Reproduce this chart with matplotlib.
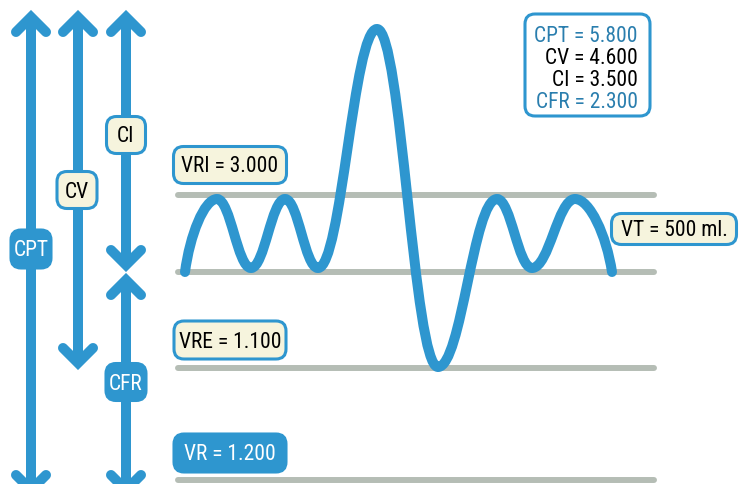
import matplotlib.pyplot as plt
from matplotlib.path import Path
from matplotlib.patches import PathPatch, FancyBboxPatch

# lung volumes shown in the chart (ml)
vol_names = ["CPT", "CV", "CI", "CFR"]
vol_values = ["5.800", "4.600", "3.500", "2.300"]
vri_value = "3.000"
vre_value = "1.100"
vr_value = "1.200"
vt_value = "500 ml."

# schematic levels of the diagram (y grows downward)
lvl_top = 17
lvl_vri = 195
lvl_crf = 272
lvl_vre = 368
lvl_floor = 480

# breathing trace: turning points
wave_x = [185, 217, 251, 285, 318, 377, 438, 497, 532, 575, 612]
wave_y = [272, 199, 268, 199, 268, 29, 367, 199, 268, 199, 272]

blue = "#2e96cf"
cream = "#f6f4dd"
grey = "#b5bdb5"
darkblue = "#2a7eae"

plt.rcParams["font.family"] = ["Roboto Condensed", "DejaVu Sans"]

fig = plt.figure(figsize=(7.43, 4.84), dpi=100)
ax = fig.add_axes([0, 0, 1, 1])
ax.set_xlim(0, 743)
ax.set_ylim(484, 0)
ax.axis("off")

# grey level lines
for lv in [lvl_vri, lvl_crf, lvl_vre, lvl_floor]:
    ax.plot([178, 654], [lv, lv], color=grey, lw=4.3, solid_capstyle="round", zorder=1)

# breathing trace as bezier segments between turning points
verts = [(wave_x[0], wave_y[0])]
codes = [Path.MOVETO]
k = 0.4
n = len(wave_x)
for i in range(n - 1):
    x0, y0 = wave_x[i], wave_y[i]
    x1, y1 = wave_x[i + 1], wave_y[i + 1]
    dx, dy = x1 - x0, y1 - y0
    if i == 0:
        c1 = (x0 + 0.15 * dx, y0 + 0.5 * dy)
    else:
        c1 = (x0 + k * dx, y0)
    if i == n - 2:
        c2 = (x1 - 0.15 * dx, y1 - 0.5 * dy)
    else:
        c2 = (x1 - k * dx, y1)
    verts += [c1, c2, (x1, y1)]
    codes += [Path.CURVE4] * 3
ax.add_patch(PathPatch(Path(verts, codes), fill=False, ec=blue, lw=7.2,
                       capstyle="round", joinstyle="round", zorder=2))


def arrow(x, top, bottom, head_top=True, head_bottom=True):
    ax.plot([x, x], [top + 4, bottom - 4], color=blue, lw=7.2, solid_capstyle="butt", zorder=2)
    if head_top:
        ax.plot([x - 15, x, x + 15], [top + 15, top, top + 15], color=blue, lw=7.2,
                solid_capstyle="round", solid_joinstyle="miter", zorder=2)
    if head_bottom:
        ax.plot([x - 15, x, x + 15], [bottom - 15, bottom, bottom - 15], color=blue, lw=7.2,
                solid_capstyle="round", solid_joinstyle="miter", zorder=2)


arrow(31, lvl_top, 490)
arrow(78, lvl_top, 363)
arrow(126, lvl_top, 265)
arrow(126, 280, 490)


def label(x, y, w, h, txt, filled=False, size=15.5):
    fc = blue if filled else cream
    tc = "white" if filled else "black"
    ax.add_patch(FancyBboxPatch((x - w / 2, y - h / 2), w, h,
                                boxstyle="round,pad=0,rounding_size=10",
                                fc=fc, ec=blue, lw=2.2, zorder=3))
    ax.text(x, y + 7.5, txt, ha="center", va="baseline", fontsize=size, color=tc, zorder=4)


label(31, 249, 40, 38, vol_names[0], filled=True)
label(77, 190, 40, 37, vol_names[1])
label(126, 135, 39, 37, vol_names[2])
label(126, 382, 40, 37, vol_names[3], filled=True)

label(230, 165, 113, 37, "VRI = " + vri_value)
label(230, 340, 112, 38, "VRE = " + vre_value)
label(230, 453, 112, 38, "VR = " + vr_value, filled=True)
label(674, 229, 125, 31, "VT = " + vt_value)

# summary box
ax.add_patch(FancyBboxPatch((525, 14), 125, 102, boxstyle="round,pad=0,rounding_size=10",
                            fc="white", ec=blue, lw=2.2, zorder=3))
colors = [darkblue, "black", "black", darkblue]
for i, (nm, val) in enumerate(zip(vol_names, vol_values)):
    ax.text(638, 41.5 + i * 22, nm + " = " + val, ha="right", va="baseline",
            fontsize=15.5, color=colors[i], zorder=4)

fig.savefig("out.png", dpi=100)
